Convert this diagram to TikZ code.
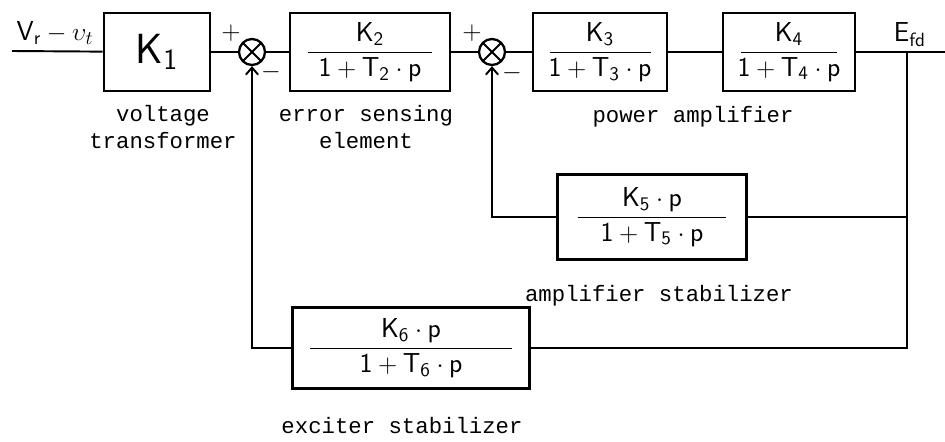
\documentclass[tikz,border=0pt]{standalone}
\usepackage{amsmath}
\usepackage{fontspec}
\setmonofont{Liberation Mono}
\usepackage{tikz}
\usetikzlibrary{arrows.meta}

% transfer function with a fixed bar length
\newcommand{\blockfrac}[3]{$\dfrac{\makebox[#1]{$#2$}}{\makebox[#1]{$#3$}}$}

\begin{document}
\begin{tikzpicture}[x=0.02cm, y=-0.02cm, line width=1.1pt, >={Straight Barb[length=4pt,width=7pt]},
    block/.style = {draw, line width=1.6pt, inner sep=0pt, font=\fontsize{15.6}{18}\selectfont},
    sum/.style   = {draw, circle, line width=1.3pt, minimum size=0.52cm, inner sep=0pt,
                    path picture={\draw[line width=1.1pt]
                      (path picture bounding box.north west) -- (path picture bounding box.south east)
                      (path picture bounding box.north east) -- (path picture bounding box.south west);}},
    sign/.style  = {inner sep=0pt, font=\fontsize{15.6}{18}\selectfont},
    legend/.style = {inner sep=0pt, align=center, font=\fontsize{12.7}{15.3}\selectfont\ttfamily}]
    \useasboundingbox (0,0) rectangle (945,442);

    % forward path
    \coordinate (in)  at (12, 51);
    \coordinate (out) at (945, 52);
    \coordinate (tap) at (907, 52);
    \node[block, minimum width=2.12cm, minimum height=1.56cm] (k1) at (157, 52)
      {\fontsize{24}{28}\selectfont$\mathsf{K}_{\mathsf{1}}$};
    \node[sum] (s1) at (252, 52) {};
    \node[block, minimum width=3.2cm, minimum height=1.56cm] (k2) at (370, 52)
      {\blockfrac{2.5cm}{\mathsf{K}_{\mathsf{2}}}{\mathsf{1}+\mathsf{T}_{\mathsf{2}}\cdot\mathsf{p}}};
    \node[sum] (s2) at (492, 52) {};
    \node[block, minimum width=2.68cm, minimum height=1.56cm] (k3) at (600, 52)
      {\blockfrac{2.02cm}{\mathsf{K}_{\mathsf{3}}}{\mathsf{1}+\mathsf{T}_{\mathsf{3}}\cdot\mathsf{p}}};
    \node[block, minimum width=2.64cm, minimum height=1.56cm] (k4) at (789, 52)
      {\blockfrac{1.92cm}{\mathsf{K}_{\mathsf{4}}}{\mathsf{1}+\mathsf{T}_{\mathsf{4}}\cdot\mathsf{p}}};

    % stabilizers
    \node[block, minimum width=3.78cm, minimum height=1.7cm] (amp) at (652, 217)
      {\blockfrac{2.98cm}{\mathsf{K}_{\mathsf{5}}\cdot\mathsf{p}}{\mathsf{1}+\mathsf{T}_{\mathsf{5}}\cdot\mathsf{p}}};
    \node[block, minimum width=4.74cm, minimum height=1.62cm] (exc) at (411, 348)
      {\blockfrac{4.04cm}{\mathsf{K}_{\mathsf{6}}\cdot\mathsf{p}}{\mathsf{1}+\mathsf{T}_{\mathsf{6}}\cdot\mathsf{p}}};

    % signals and signs
    \node[sign] (vin)  at (55, 33)  {$\mathsf{V}_{\mathsf{r}}-\upsilon_{t}$};
    \node[sign] (efd)  at (910, 35) {$\mathsf{E}_{\mathsf{fd}}$};
    \node[sign] (s1p) at ([shift={(-21,-19)}]s1) {$+$};
    \node[sign] (s1m) at ([shift={(19,20)}]s1)   {$-$};
    \node[sign] (s2p) at ([shift={(-20,-19)}]s2) {$+$};
    \node[sign] (s2m) at ([shift={(20,21)}]s2)   {$-$};

    % captions
    \node[legend] (vtlabel)  at (163, 127) {voltage\\transformer};
    \node[legend] (eslabel)  at (366, 127) {error sensing\\element};
    \node[legend] (palabel)  at (693, 117) {power amplifier};
    \node[legend] (aslabel)  at (659, 296) {amplifier stabilizer};
    \node[legend] (exlabel)  at (402, 426) {exciter stabilizer};

    \draw (in) -- (k1);
    \draw (k1) -- (s1);
    \draw (s1) -- (k2);
    \draw (k2) -- (s2);
    \draw (s2) -- (k3);
    \draw (k3) -- (k4);
    \draw (k4) -- (out);
    \draw (tap) |- (amp);
    \draw (tap) |- (exc);
    \draw[->] (amp) -| (s2);
    \draw[->] (exc) -| (s1);
\end{tikzpicture}
\end{document}
